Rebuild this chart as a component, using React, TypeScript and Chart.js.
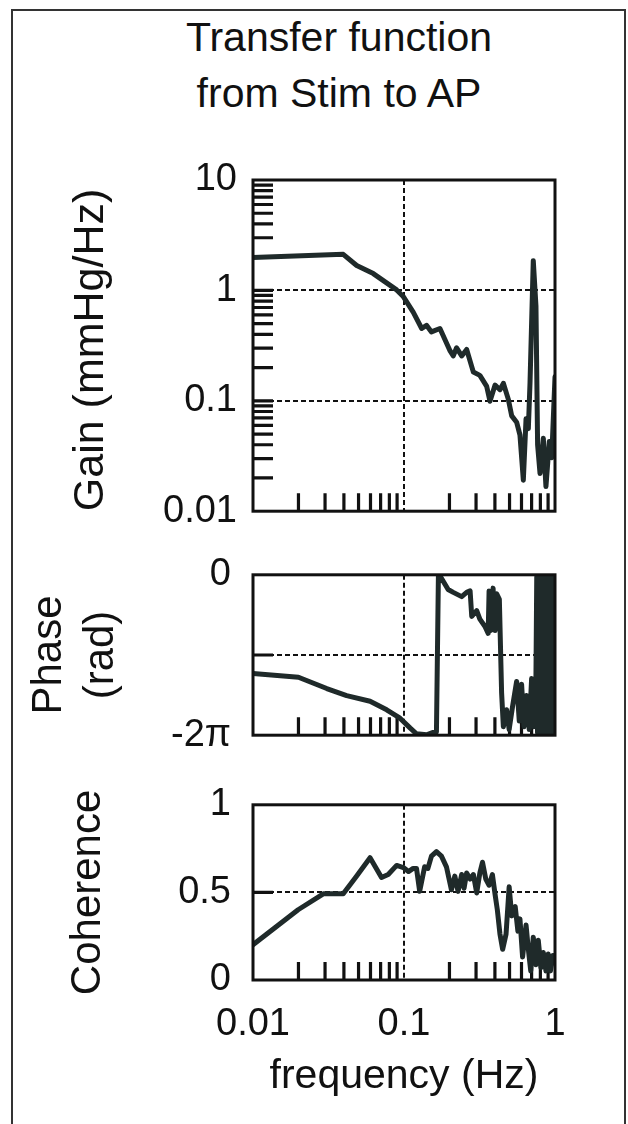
import React, { useEffect, useRef } from 'react';
import { Chart, registerables } from 'chart.js';

Chart.register(...registerables);

const FONT = '"Liberation Sans", Arial, Helvetica, sans-serif';
const LINE_COLOR = '#1f2a2a';
const INK = '#111111';

// ---------- text ----------
const titleLines = ['Transfer function', 'from Stim to AP'];
const gainTitle = 'Gain (mmHg/Hz)';
const phaseTitle = ['Phase', '(rad)'];
const coherenceTitle = 'Coherence';
const freqTitle = 'frequency (Hz)';

// ---------- frequency axis ----------
const freqTickValues = [0.01, 0.1, 1];
const freqTickLabels = ['0.01', '0.1', '1'];
const freqMinorTicks = [0.02, 0.03, 0.04, 0.05, 0.06, 0.07, 0.08, 0.09, 0.2, 0.3, 0.4, 0.5, 0.6, 0.7, 0.8, 0.9];
const freqDashed = [0.1];

// ---------- gain ----------
const gainFreq = [
  0.01, 0.0396, 0.0486, 0.0626, 0.0894, 0.0985, 0.1153, 0.131, 0.141, 0.152, 0.173,
  0.202, 0.212, 0.223, 0.241, 0.26, 0.288, 0.318, 0.353, 0.371, 0.401, 0.432, 0.455,
  0.491, 0.517, 0.557, 0.586, 0.617, 0.643, 0.666, 0.683, 0.718, 0.748, 0.767, 0.796,
  0.837, 0.871, 0.917, 0.951, 1.0,
];
const gainValues = [
  1.99, 2.12, 1.68, 1.42, 1.01, 0.886, 0.632, 0.452, 0.483, 0.421, 0.452,
  0.283, 0.255, 0.302, 0.255, 0.292, 0.182, 0.17, 0.135, 0.099, 0.139, 0.126, 0.144,
  0.103, 0.073, 0.064, 0.049, 0.0191, 0.0686, 0.056, 0.144, 1.86, 0.724, 0.04, 0.0219,
  0.0457, 0.0167, 0.0428, 0.0305, 0.165,
];
const gainTickValues = [10, 1, 0.1, 0.01];
const gainTickLabels = ['10', '1', '0.1', '0.01'];
const gainMinorTicks = [
  0.02, 0.03, 0.04, 0.05, 0.06, 0.07, 0.08, 0.09, 0.1,
  0.2, 0.3, 0.4, 0.5, 0.6, 0.7, 0.8, 0.9, 1,
  2, 3, 4, 5, 6, 7, 8, 9,
];
const gainDashed = [1, 0.1];

// ---------- phase (rad) ----------
const phaseFreq = [
  0.01, 0.02, 0.0308, 0.0417, 0.0596, 0.0768, 0.0941, 0.11, 0.121, 0.141, 0.156, 0.164,
  0.169, 0.177, 0.196, 0.212, 0.241, 0.26, 0.274, 0.281, 0.303, 0.318, 0.343, 0.361,
  0.366, 0.374, 0.389, 0.401, 0.411, 0.428, 0.443, 0.455, 0.478, 0.497, 0.523, 0.557,
  0.58, 0.601, 0.623, 0.648, 0.675, 0.7, 0.724, 0.748,
  0.757, 0.766, 0.775, 0.784, 0.794, 0.803, 0.813, 0.822, 0.832, 0.842, 0.852, 0.862,
  0.873, 0.883, 0.894, 0.905, 0.916, 0.927, 0.938, 0.95, 0.961, 0.973, 0.985, 1.0,
];
const phaseValues = [
  -3.867, -4.012, -4.455, -4.731, -4.954, -5.287, -5.617, -6.007, -6.227, -6.267, -6.173, -6.158,
  -0.022, -0.132, -0.575, -0.688, -0.855, -0.688, -0.631, -1.63, -1.407, -1.737, -2.017, -2.293,
  -0.631, -2.183, -0.522, -2.183, -0.741, -0.964, -4.621, -5.95, -5.287, -6.06, -5.174, -4.178,
  -5.73, -4.288, -5.95, -4.731, -6.06, -4.065, -5.95, -3.955,
  -0.08, -6.2, -0.05, -6.22, -0.1, -6.18, -0.06, -6.23, -0.09, -6.15, -0.05, -6.21,
  -0.12, -6.19, -0.06, -6.22, -0.08, -6.2, -0.05, -6.17, -0.1, -6.22, -0.07, -0.6,
];
const phaseTickValues = [0, -Math.PI, -2 * Math.PI];
const phaseTickLabels = ['0', '', '-2π'];
const phaseMinorTicks = [-Math.PI];
const phaseDashed = [-Math.PI];

// ---------- coherence ----------
const cohFreq = [
  0.01, 0.0199, 0.0292, 0.0396, 0.0486, 0.0596, 0.071, 0.0786, 0.0894, 0.099, 0.107,
  0.115, 0.121, 0.127, 0.137, 0.144, 0.152, 0.164, 0.177, 0.191, 0.206, 0.217, 0.228,
  0.241, 0.25, 0.26, 0.274, 0.288, 0.303, 0.318, 0.331, 0.348, 0.366, 0.385, 0.401,
  0.415, 0.432, 0.45, 0.474, 0.497, 0.517, 0.545, 0.568, 0.586, 0.61, 0.643, 0.666,
  0.691, 0.718, 0.748, 0.775, 0.807, 0.837, 0.871, 0.902, 0.933, 0.969, 1.0,
];
const cohValues = [
  0.201, 0.401, 0.492, 0.492, 0.593, 0.698, 0.585, 0.602, 0.654, 0.642, 0.619,
  0.637, 0.637, 0.506, 0.646, 0.637, 0.707, 0.733, 0.707, 0.646, 0.515, 0.593, 0.506,
  0.602, 0.524, 0.611, 0.576, 0.602, 0.497, 0.611, 0.672, 0.576, 0.541, 0.602, 0.489,
  0.401, 0.262, 0.175, 0.262, 0.532, 0.366, 0.419, 0.279, 0.349, 0.131, 0.314, 0.175,
  0.052, 0.244, 0.087, 0.227, 0.07, 0.157, 0.052, 0.148, 0.052, 0.14, 0.096,
];
const cohTickValues = [1, 0.5, 0];
const cohTickLabels = ['1', '0.5', '0'];
const cohMinorTicks = [0.5];
const cohDashed = [0.5];

// ---------- decoration plugin (frame, dashed grid, inward ticks) ----------
const decoPlugin = {
  id: 'deco',
  beforeDatasetsDraw(chart: any, _args: any, opts: any) {
    const { ctx, chartArea: a, scales } = chart;
    const xs = scales.x;
    const ys = scales.y;
    ctx.save();
    ctx.strokeStyle = INK;
    ctx.lineWidth = 2;
    ctx.setLineDash([5, 3]);
    ctx.beginPath();
    for (const v of opts.xDash || []) {
      const px = Math.round(xs.getPixelForValue(v));
      ctx.moveTo(px, a.top);
      ctx.lineTo(px, a.bottom);
    }
    for (const v of opts.yDash || []) {
      const py = Math.round(ys.getPixelForValue(v));
      ctx.moveTo(a.left, py);
      ctx.lineTo(a.right, py);
    }
    ctx.stroke();
    ctx.setLineDash([]);
    ctx.lineWidth = 3.2;
    ctx.beginPath();
    for (const v of opts.xTicks || []) {
      const px = xs.getPixelForValue(v);
      ctx.moveTo(px, a.bottom);
      ctx.lineTo(px, a.bottom - 18);
    }
    for (const v of opts.yTicks || []) {
      const py = ys.getPixelForValue(v);
      ctx.moveTo(a.left, py);
      ctx.lineTo(a.left + 20, py);
    }
    ctx.stroke();
    ctx.restore();
  },
  afterDatasetsDraw(chart: any) {
    const { ctx, chartArea: a } = chart;
    ctx.save();
    ctx.strokeStyle = INK;
    ctx.lineWidth = 3;
    ctx.strokeRect(a.left, a.top, a.right - a.left, a.bottom - a.top);
    ctx.restore();
  },
};

type PanelSpec = {
  freq: number[];
  values: number[];
  yType: 'logarithmic' | 'linear';
  yMin: number;
  yMax: number;
  yTickValues: number[];
  yTickLabels: string[];
  yMinor: number[];
  yDash: number[];
  yTitle: any;
  yTitleFont: number;
  yTitleLineHeight: number;
  yTitlePad: number;
  yTitleAlign: 'start' | 'center' | 'end';
  yLabelPad: number;
  canvasHeight: number;
  padTop: number;
  xHeight: number;
  showX: boolean;
};

function makeConfig(p: PanelSpec): any {
  return {
    type: 'line',
    data: {
      datasets: [
        {
          data: p.freq.map((f, i) => ({ x: f, y: p.values[i] })),
          borderColor: LINE_COLOR,
          borderWidth: 5,
          pointRadius: 0,
          tension: 0,
          borderJoinStyle: 'round',
          borderCapStyle: 'round',
          fill: false,
        },
      ],
    },
    options: {
      animation: false,
      responsive: false,
      maintainAspectRatio: false,
      events: [],
      layout: { padding: { left: 0, right: 73, top: p.padTop, bottom: 0 } },
      plugins: {
        legend: { display: false },
        tooltip: { enabled: false },
        title: { display: false },
        deco: {
          xTicks: freqMinorTicks,
          xDash: freqDashed,
          yTicks: p.yMinor,
          yDash: p.yDash,
        },
      },
      scales: {
        x: {
          type: 'logarithmic',
          position: 'bottom',
          min: 0.01,
          max: 1,
          grid: { display: false, drawTicks: false },
          border: { display: false },
          afterBuildTicks: (s: any) => {
            s.ticks = freqTickValues.map((v) => ({ value: v }));
          },
          afterFit: (s: any) => {
            s.height = p.xHeight;
          },
          ticks: {
            display: p.showX,
            autoSkip: false,
            maxRotation: 0,
            padding: 22,
            color: INK,
            font: { family: FONT, size: 38 },
            callback: (_v: any, i: number) => freqTickLabels[i],
          },
          title: {
            display: p.showX,
            text: freqTitle,
            color: INK,
            font: { family: FONT, size: 41 },
            padding: { top: 0, bottom: 23 },
          },
        },
        y: {
          type: p.yType,
          position: 'left',
          min: p.yMin,
          max: p.yMax,
          grid: { display: false, drawTicks: false },
          border: { display: false },
          afterBuildTicks: (s: any) => {
            s.ticks = p.yTickValues.map((v) => ({ value: v }));
          },
          afterFit: (s: any) => {
            s.width = 253;
          },
          ticks: {
            autoSkip: false,
            padding: p.yLabelPad,
            color: INK,
            font: { family: FONT, size: 38 },
            callback: (_v: any, i: number) => p.yTickLabels[i],
          },
          title: {
            display: true,
            text: p.yTitle,
            color: INK,
            align: p.yTitleAlign,
            font: { family: FONT, size: p.yTitleFont, lineHeight: p.yTitleLineHeight },
            padding: { top: p.yTitlePad, bottom: 0 },
          },
        },
      },
    },
    plugins: [decoPlugin],
  };
}

const panels: { top: number; spec: PanelSpec }[] = [
  {
    top: 140,
    spec: {
      freq: gainFreq,
      values: gainValues,
      yType: 'logarithmic',
      yMin: 0.01,
      yMax: 10,
      yTickValues: gainTickValues,
      yTickLabels: gainTickLabels,
      yMinor: gainMinorTicks,
      yDash: gainDashed,
      yTitle: gainTitle,
      yTitleFont: 43,
      yTitleLineHeight: 1.2,
      yTitlePad: 65,
      yTitleAlign: 'start',
      yLabelPad: 16,
      canvasHeight: 410,
      padTop: 40,
      xHeight: 28,
      showX: false,
    },
  },
  {
    top: 530,
    spec: {
      freq: phaseFreq,
      values: phaseValues,
      yType: 'linear',
      yMin: -2 * Math.PI,
      yMax: 0,
      yTickValues: phaseTickValues,
      yTickLabels: phaseTickLabels,
      yMinor: phaseMinorTicks,
      yDash: phaseDashed,
      yTitle: phaseTitle,
      yTitleFont: 42,
      yTitleLineHeight: 1.238,
      yTitlePad: 23,
      yTitleAlign: 'center',
      yLabelPad: 22,
      canvasHeight: 250,
      padTop: 31,
      xHeight: 30,
      showX: false,
    },
  },
  {
    top: 760,
    spec: {
      freq: cohFreq,
      values: cohValues,
      yType: 'linear',
      yMin: 0,
      yMax: 1,
      yTickValues: cohTickValues,
      yTickLabels: cohTickLabels,
      yMinor: cohMinorTicks,
      yDash: cohDashed,
      yTitle: coherenceTitle,
      yTitleFont: 42,
      yTitleLineHeight: 1.2,
      yTitlePad: 63,
      yTitleAlign: 'center',
      yLabelPad: 22,
      canvasHeight: 364,
      padTop: 29,
      xHeight: 144,
      showX: true,
    },
  },
];

export default function App() {
  const refs = [useRef<HTMLCanvasElement>(null), useRef<HTMLCanvasElement>(null), useRef<HTMLCanvasElement>(null)];

  useEffect(() => {
    const charts: Chart[] = [];
    panels.forEach((p, i) => {
      const c = refs[i].current;
      if (c) charts.push(new Chart(c, makeConfig(p.spec)));
    });
    return () => charts.forEach((ch) => ch.destroy());
  }, []);

  return (
    <div
      style={{
        position: 'absolute',
        left: 0,
        top: 0,
        width: 628,
        height: 1124,
        overflow: 'hidden',
        background: '#ffffff',
        fontFamily: FONT,
      }}
    >
      <div
        style={{
          position: 'absolute',
          left: 11,
          top: 9,
          width: 615,
          height: 1200,
          border: '2px solid #333',
          boxSizing: 'border-box',
        }}
      />
      <div
        style={{
          position: 'absolute',
          left: 139,
          top: 9,
          width: 400,
          textAlign: 'center',
          fontSize: 41,
          lineHeight: '56px',
          color: INK,
          whiteSpace: 'nowrap',
        }}
      >
        {titleLines.map((t) => (
          <div key={t}>{t}</div>
        ))}
      </div>
      {panels.map((p, i) => (
        <canvas
          key={i}
          ref={refs[i]}
          width={628}
          height={p.spec.canvasHeight}
          style={{
            position: 'absolute',
            left: 0,
            top: p.top,
            width: 628,
            height: p.spec.canvasHeight,
          }}
        />
      ))}
    </div>
  );
}
